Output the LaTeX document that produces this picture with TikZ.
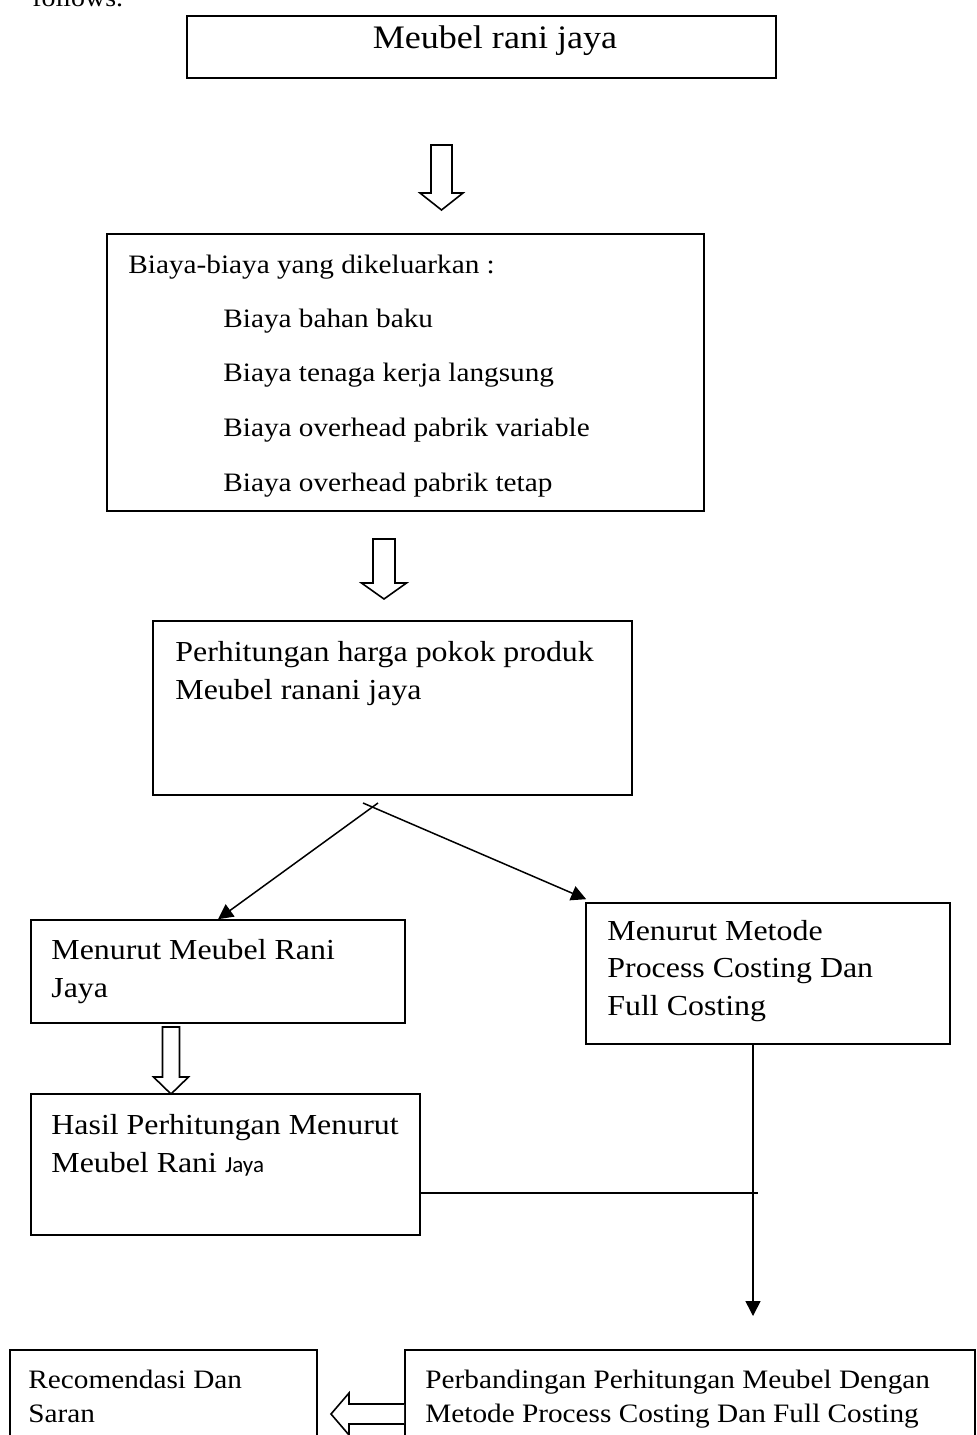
\documentclass[tikz,border=0pt]{standalone}
\usepackage{fontspec}
\setmainfont{Liberation Serif}[FakeStretch=1.1]
\newfontfamily\calibri{Carlito}
\usetikzlibrary{arrows.meta,fit}
\tikzset{
  box/.style={draw,line width=0.8pt,inner sep=0pt},
  txt/.style={inner sep=0pt,align=left,anchor=base west,font=\fontsize{14.5}{18.75}\selectfont},
  small/.style={font=\fontsize{13.3}{17}\selectfont},
  link/.style={line width=0.75pt},
  tip/.style={-{Triangle[length=7.5pt,width=7.5pt]}},
  hollow/.style={draw,line width=0.8pt,fill=white,line join=miter}
}
\begin{document}
\begin{tikzpicture}[x=0.5pt,y=-0.5pt]
  \useasboundingbox (0,0) rectangle (976,1435);
  \clip (0,0) rectangle (976,1435);

  \node[txt,font=\fontsize{12.7}{15}\selectfont] (follows) at (32,6) {follows.};

  \node[box,fit={(187,16) (776,78)}] (rani) {};
  \node[txt,anchor=base,font=\fontsize{16.4}{20}\selectfont] (ranitext) at (495,48) {Meubel rani jaya};

  \node[box,fit={(107,234) (704,511)}] (biaya) {};
  \node[txt,small] (biayatitle) at (128,273) {Biaya-biaya yang dikeluarkan :};
  \node[txt,font=\fontsize{13.3}{27.3}\selectfont] (biayalist) at (223,491)
    {Biaya bahan baku\\Biaya tenaga kerja langsung\\Biaya overhead pabrik variable\\Biaya overhead pabrik tetap};

  \node[box,fit={(153,621) (632,795)}] (hpp) {};
  \node[txt] (hpptext) at (175,699) {Perhitungan harga pokok produk\\Meubel ranani jaya};

  \node[box,fit={(31,920) (405,1023)}] (menrani) {};
  \node[txt] (menranitext) at (51,997) {Menurut Meubel Rani\\Jaya};

  \node[box,fit={(586,903) (950,1044)}] (metode) {};
  \node[txt] (metodetext) at (607,1015) {Menurut Metode\\Process Costing Dan\\Full Costing};

  \node[box,fit={(31,1094) (420,1235)}] (hasil) {};
  \node[txt] (hasiltext) at (51,1172) {Hasil Perhitungan Menurut\\Meubel Rani {\calibri\fontsize{11.5}{14}\selectfont Jaya}};

  \node[box,fit={(10,1350) (317,1480)}] (saran) {};
  \node[txt,small] (sarantext) at (28,1422) {Recomendasi Dan\\Saran};

  \node[box,fit={(405,1350) (975,1480)}] (banding) {};
  \node[txt,small] (bandingtext) at (425,1422) {Perbandingan Perhitungan Meubel Dengan\\Metode Process Costing Dan Full Costing};

  \foreach \x/\ya/\yb/\yc/\sw/\hw in {441.5/145/193/210/10.5/21.5, 384/539/583/599/11/22.5, 171/1027/1077/1094/8.5/17.5}
    \draw[hollow] (\x-\sw,\ya) -- (\x+\sw,\ya) -- (\x+\sw,\yb) -- (\x+\hw,\yb)
      -- (\x,\yc) -- (\x-\hw,\yb) -- (\x-\sw,\yb) -- cycle;
  \draw[hollow] (banding.west |- 0,1404) -- (349,1404) -- (349,1393) -- (331,1414)
    -- (349,1435) -- (349,1424) -- (banding.west |- 0,1424);

  \coordinate (split) at (372,807);
  \draw[link,tip] ([shift={(6,-4)}]split) -- (menrani.north);
  \draw[link,tip] ([shift={(-9,-4)}]split) -- ([shift={(1,-3)}]metode.north west);

  \coordinate (join) at (758,1193);
  \coordinate (down) at (753,1316);
  \draw[link] (hasil.east |- join) -- (join);
  \draw[link,tip] (metode.south -| down) -- (down);
\end{tikzpicture}
\end{document}
